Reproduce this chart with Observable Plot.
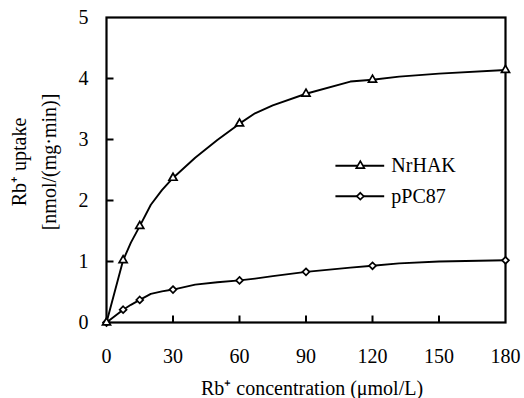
<!DOCTYPE html>
<html>
<head>
<meta charset="utf-8">
<script src="https://cdn.jsdelivr.net/npm/d3@7"></script>
<script src="https://cdn.jsdelivr.net/npm/@observablehq/plot@0.6"></script>
<style>
  html, body { margin: 0; padding: 0; background: #fff; }
  #chart svg { display: block; }
</style>
</head>
<body>
<div id="chart"></div>
<script>
// ---- data ----
const concentration = [0, 7.5, 15, 30, 60, 90, 120, 180];        // µmol/L (marker positions)
const nrhakUptake   = [0, 1.02, 1.58, 2.37, 3.26, 3.75, 3.98, 4.14];
const ppc87Uptake   = [0, 0.21, 0.37, 0.54, 0.69, 0.83, 0.93, 1.02];

// vertices of the drawn curves
const curveConc  = [0, 7.5, 11, 15, 20, 25, 30, 40, 50, 60, 67, 75, 90, 110, 120, 132, 150, 180];
const nrhakCurve = [0, 1.02, 1.31, 1.58, 1.93, 2.17, 2.37, 2.70, 2.99, 3.26, 3.43, 3.56, 3.75, 3.95, 3.98, 4.03, 4.08, 4.14];
const ppc87Curve = [0, 0.21, 0.29, 0.37, 0.47, 0.51, 0.54, 0.62, 0.66, 0.69, 0.72, 0.76, 0.83, 0.90, 0.93, 0.97, 1.00, 1.02];

const seriesNames = ["NrHAK", "pPC87"];
const xTicks = [0, 30, 60, 90, 120, 150, 180];
const yTicks = [0, 1, 2, 3, 4, 5];
const xTitle = "Rb⁺ concentration (μmol/L)";
const yTitle = ["Rb⁺ uptake", "[nmol/(mg·min)]"];

// ---- build tables ----
const markerRows = [
  ...concentration.map((c, i) => ({series: seriesNames[0], c, v: nrhakUptake[i]})),
  ...concentration.map((c, i) => ({series: seriesNames[1], c, v: ppc87Uptake[i]}))
];
const curveRows = [
  ...curveConc.map((c, i) => ({series: seriesNames[0], c, v: nrhakCurve[i]})),
  ...curveConc.map((c, i) => ({series: seriesNames[1], c, v: ppc87Curve[i]}))
];
const symbols = {NrHAK: "triangle", pPC87: "diamond2"};
const sizes = {NrHAK: 3.8, pPC87: 4.1};

// inward tick glyphs (7px)
const tickUp = {draw(ctx) { ctx.moveTo(0, 0); ctx.lineTo(0, -7); }};
const tickRight = {draw(ctx) { ctx.moveTo(0, 0); ctx.lineTo(7, 0); }};

// legend placement (in data units, inside the plot frame)
const legend = seriesNames.map((s, i) => ({series: s, y: [2.57, 2.07][i]}));
const legX1 = 103.5, legX2 = 125.5, legXm = 114.5, legXt = 128.5;

const font = '"Liberation Serif", "Times New Roman", Times, serif';
const fs = 20;

const chart = Plot.plot({
  width: 524,
  height: 398,
  marginLeft: 106,
  marginRight: 19,
  marginTop: 17,
  marginBottom: 76,
  style: {fontFamily: font, fontSize: fs + "px", color: "black", background: "white"},
  x: {domain: [0, 180]},
  y: {domain: [0, 5]},
  symbol: {domain: seriesNames, range: seriesNames.map(s => symbols[s])},
  marks: [
    Plot.axisX({ticks: xTicks, tickSize: 0, tickPadding: 26, label: null, fontSize: fs, fontFamily: font, tickFormat: d3.format("d")}),
    Plot.axisY({ticks: yTicks, tickSize: 0, tickPadding: 18, label: null, fontSize: fs, fontFamily: font, tickFormat: d3.format("d")}),
    Plot.dot(xTicks.slice(1, -1), {x: d => d, y: () => 0, symbol: () => tickUp, fill: "none", stroke: "black", strokeWidth: 2}),
    Plot.dot(yTicks.slice(1, -1), {y: d => d, x: () => 0, symbol: () => tickRight, fill: "none", stroke: "black", strokeWidth: 2}),
    Plot.line(curveRows, {x: "c", y: "v", z: "series", stroke: "black", strokeWidth: 1.9}),
    Plot.frame({stroke: "black", strokeWidth: 2.2}),
    Plot.dot(markerRows, {x: "c", y: "v", symbol: "series", r: d => sizes[d.series], fill: "white", stroke: "black", strokeWidth: 1.7}),
    // legend
    Plot.ruleY(legend, {y: "y", x1: () => legX1, x2: () => legX2, stroke: "black", strokeWidth: 1.9}),
    Plot.dot(legend, {x: () => legXm, y: "y", symbol: "series", r: d => sizes[d.series], fill: "white", stroke: "black", strokeWidth: 1.7}),
    Plot.text(legend, {x: () => legXt, y: "y", text: "series", textAnchor: "start", lineAnchor: "middle", fontSize: fs, fontFamily: font, fill: "black"}),
    // titles
    Plot.text([xTitle], {frameAnchor: "bottom", dy: 66, dx: 6, textAnchor: "middle", lineAnchor: "middle", fontSize: fs, fontFamily: font, fill: "black"}),
    Plot.text([yTitle[0]], {frameAnchor: "left", dx: -87, dy: -8, rotate: -90, textAnchor: "middle", lineAnchor: "middle", fontSize: fs, fontFamily: font, fill: "black"}),
    Plot.text([yTitle[1]], {frameAnchor: "left", dx: -57, dy: -8, rotate: -90, textAnchor: "middle", lineAnchor: "middle", fontSize: fs, fontFamily: font, fill: "black"})
  ]
});
document.getElementById("chart").append(chart);
</script>
</body>
</html>
